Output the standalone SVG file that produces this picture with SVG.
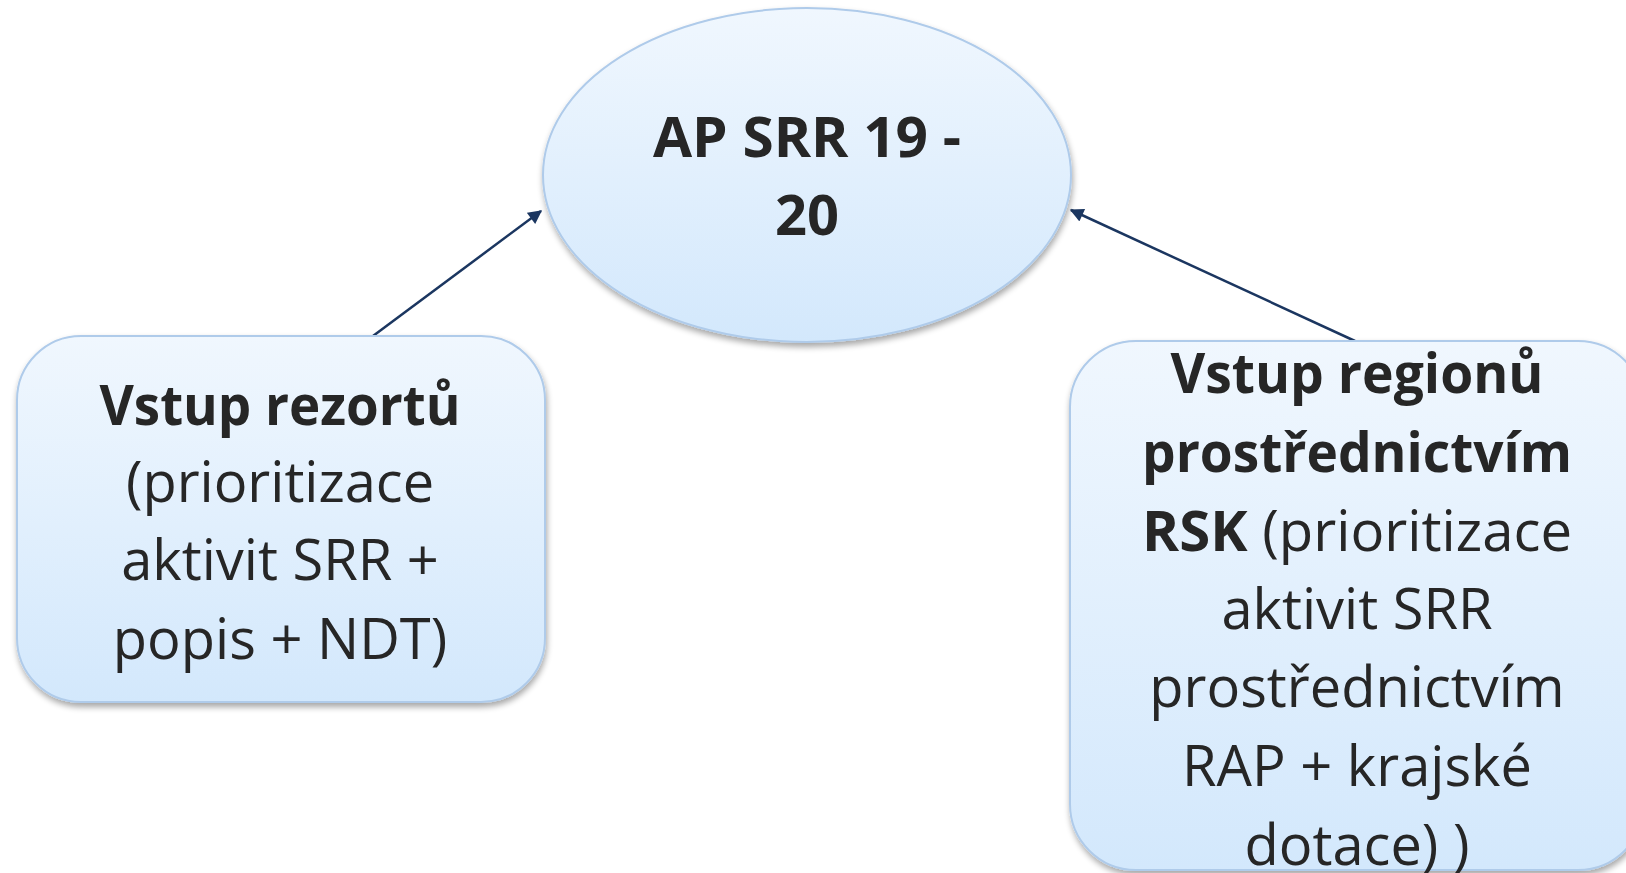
<svg xmlns="http://www.w3.org/2000/svg" width="1626" height="873" viewBox="0 0 1626 873">
<defs>
<linearGradient id="fillGrad" x1="0" y1="0" x2="0" y2="1">
<stop offset="0" stop-color="#F0F7FE"/>
<stop offset="1" stop-color="#D3E8FC"/>
</linearGradient>
<filter id="shadow" x="-10%" y="-10%" width="120%" height="125%">
<feGaussianBlur in="SourceAlpha" stdDeviation="3"/>
<feOffset dx="1" dy="4" result="b"/>
<feComponentTransfer><feFuncA type="linear" slope="0.35"/></feComponentTransfer>
<feMerge><feMergeNode/><feMergeNode in="SourceGraphic"/></feMerge>
</filter>
<marker id="arrow" viewBox="0 0 10 10" refX="9" refY="5" markerWidth="6" markerHeight="5.5" markerUnits="strokeWidth" orient="auto">
<path d="M0,0 L10,5 L0,10 Z" fill="#1B3660"/>
</marker>
</defs>
<style>
.shape { fill: url(#fillGrad); stroke: #AFCBEA; stroke-width: 2; filter: url(#shadow); }
.t { font-family: "Open Sans", "Noto Sans", "Liberation Sans", sans-serif; font-size: 56px; fill: #262626; text-anchor: middle; }
.b { font-weight: bold; }
.conn { stroke: #1B3660; stroke-width: 2.5; fill: none; marker-end: url(#arrow); }
</style>
<rect width="1626" height="873" fill="#FFFFFF"/>
<g id="connectors">
<line class="conn" x1="373" y1="336" x2="541" y2="211"/>
<line class="conn" x1="1355" y1="341" x2="1071" y2="210"/>
</g>
<g id="node-ap">
<ellipse class="shape" cx="807" cy="175" rx="264" ry="167"/>
<text class="t b" x="807" y="157" textLength="308" lengthAdjust="spacingAndGlyphs">AP SRR 19 -</text>
<text class="t b" x="807" y="235">20</text>
</g>
<g id="node-rezorty">
<rect class="shape" x="17" y="336" width="528" height="366" rx="64" ry="64"/>
<text class="t b" x="280" y="425" textLength="361" lengthAdjust="spacingAndGlyphs">Vstup rezortů</text>
<text class="t" x="280" y="502">(prioritizace</text>
<text class="t" x="280" y="580">aktivit SRR +</text>
<text class="t" x="280" y="659">popis + NDT)</text>
</g>
<g id="node-regiony">
<rect class="shape" x="1070" y="341" width="574" height="529" rx="66" ry="66"/>
<text class="t b" x="1357" y="393" textLength="373" lengthAdjust="spacingAndGlyphs">Vstup regionů</text>
<text class="t b" x="1357" y="472" textLength="430" lengthAdjust="spacingAndGlyphs">prostřednictvím</text>
<text class="t" x="1357" y="551" textLength="430" lengthAdjust="spacingAndGlyphs"><tspan class="b">RSK</tspan> (prioritizace</text>
<text class="t" x="1357" y="629">aktivit SRR</text>
<text class="t" x="1357" y="707">prostřednictvím</text>
<text class="t" x="1357" y="786">RAP + krajské</text>
<text class="t" x="1357" y="865">dotace) )</text>
</g>
</svg>
